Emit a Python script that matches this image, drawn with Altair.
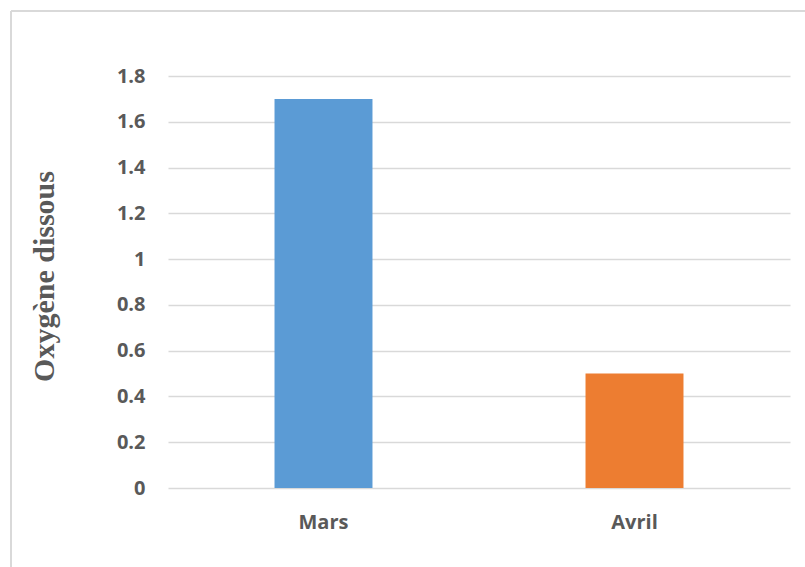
import altair as alt
import pandas as pd

# Dissolved oxygen per month
months = ["Mars", "Avril"]
oxygen = [1.7, 0.5]
bar_colors = ["#5B9BD5", "#ED7D31"]
y_ticks = [0, 0.2, 0.4, 0.6, 0.8, 1.0, 1.2, 1.4, 1.6, 1.8]

df = pd.DataFrame({"mois": months, "oxygene": oxygen})

PLOT_W, PLOT_H = 622, 412
PAD_L, PAD_T = 168, 76
GREY = "#595959"
GRID = "#d9d9d9"

bars = alt.Chart(df).mark_bar().encode(
    x=alt.X(
        "mois:N",
        sort=months,
        scale=alt.Scale(paddingInner=0.685, paddingOuter=0.3425),
        axis=alt.Axis(
            title=None, domain=False, ticks=False, tickSize=0, grid=False,
            labelAngle=0, labelFont="Open Sans", labelFontWeight="bold",
            labelFontSize=20, labelColor=GREY, labelBaseline="alphabetic",
            labelPadding=40,
        ),
    ),
    y=alt.Y(
        "oxygene:Q",
        scale=alt.Scale(domain=[0, 1.8], nice=False),
        axis=alt.Axis(
            values=y_ticks, format="~g", domain=False, ticks=False, tickSize=0,
            grid=True, gridColor=GRID, gridWidth=1.5,
            labelFont="Open Sans", labelFontWeight="bold", labelFontSize=20,
            labelColor=GREY, labelPadding=23,
            title="Oxygène dissous", titleFont="Liberation Serif",
            titleFontWeight="bold", titleFontSize=30, titleColor=GREY,
            titleAngle=270, titleX=-115, titleY=200, titleAlign="center",
            titleBaseline="alphabetic",
        ),
    ),
    color=alt.Color("mois:N", scale=alt.Scale(domain=months, range=bar_colors), legend=None),
)

# Frame lines along the left and top edges of the chart
frame_df = pd.DataFrame({"k": [0]})
frame_top = alt.Chart(frame_df).mark_rule(color=GRID, strokeWidth=2).encode(
    x=alt.value(11 - PAD_L), x2=alt.value(805 - PAD_L), y=alt.value(11 - PAD_T)
)
frame_left = alt.Chart(frame_df).mark_rule(color=GRID, strokeWidth=2).encode(
    x=alt.value(11 - PAD_L), y=alt.value(11 - PAD_T), y2=alt.value(567 - PAD_T)
)

chart = alt.layer(bars, frame_top, frame_left).properties(
    width=PLOT_W,
    height=PLOT_H,
    autosize=alt.AutoSizeParams(type="none"),
    padding={"left": PAD_L, "top": PAD_T, "right": 805 - PAD_L - PLOT_W, "bottom": 567 - PAD_T - PLOT_H},
    background="white",
).configure_view(stroke=None)

chart.save("out.html", embed_options={"renderer": "svg", "actions": False})
